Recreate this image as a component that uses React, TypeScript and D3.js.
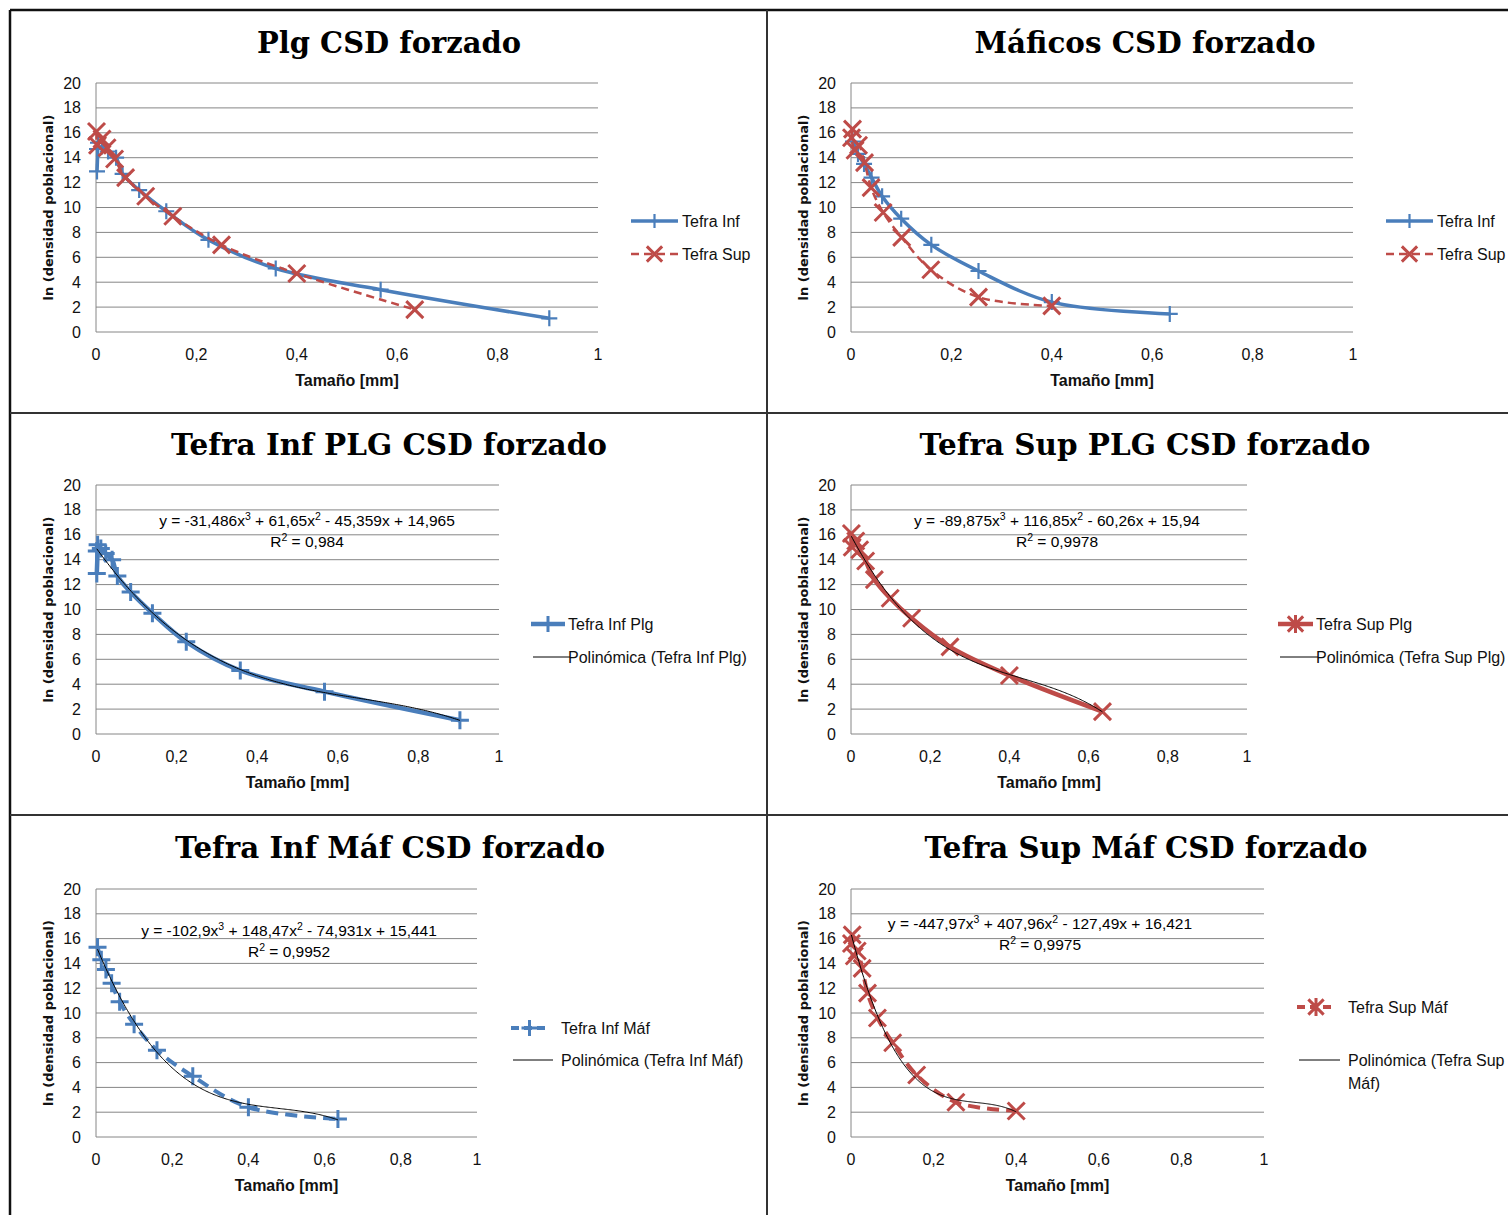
import React from 'react';
import * as d3 from 'd3';

// ---- CSD data: size class midpoint [mm] vs ln(population density) ----
const infPlgSize = [0.002, 0.004, 0.002, 0.012, 0.024, 0.04, 0.053, 0.086, 0.14, 0.224, 0.358, 0.567, 0.903];
const infPlgLnN = [12.9, 15.2, 14.7, 14.9, 14.5, 14.0, 12.7, 11.4, 9.7, 7.4, 5.1, 3.4, 1.1];

const supPlgSize = [0.001, 0.003, 0.012, 0.022, 0.037, 0.059, 0.099, 0.153, 0.25, 0.4, 0.635];
const supPlgLnN = [16.1, 15.0, 15.5, 14.8, 13.9, 12.4, 10.9, 9.3, 7.0, 4.7, 1.8];

const infMafSize = [0.004, 0.014, 0.026, 0.041, 0.062, 0.1, 0.16, 0.254, 0.4, 0.635];
const infMafLnN = [15.3, 14.3, 13.5, 12.4, 10.9, 9.1, 7.0, 4.9, 2.4, 1.45];

const supMafSize = [0.003, 0.001, 0.008, 0.015, 0.027, 0.04, 0.064, 0.101, 0.159, 0.254, 0.4];
const supMafLnN = [16.3, 15.6, 14.6, 15.0, 13.6, 11.6, 9.6, 7.6, 5.0, 2.8, 2.1];

// ---- cubic trend fits: [x^3, x^2, x, 1] and their R^2 ----
const infPlgFit = [-31.486, 61.65, -45.359, 14.965];
const supPlgFit = [-89.875, 116.85, -60.26, 15.94];
const infMafFit = [-102.9, 148.47, -74.931, 15.441];
const supMafFit = [-447.97, 407.96, -127.49, 16.421];
const fitR2 = [0.984, 0.9978, 0.9952, 0.9975];

// ---- axes ----
const xTicks = [0, 0.2, 0.4, 0.6, 0.8, 1];
const yTicks = [0, 2, 4, 6, 8, 10, 12, 14, 16, 18, 20];
const xTitle = 'Tamaño [mm]';
const yTitle = 'ln (densidad poblacional)';

const BLUE = '#4A7EBB';
const RED = '#BE4B48';
const GRID = '#868686';
const SANS = '"Liberation Sans", Arial, sans-serif';
const SERIF = '"DejaVu Serif", serif';

type Marker = 'plus' | 'cross' | 'star';
type SeriesSpec = {
  name: string;
  x: number[];
  y: number[];
  color: string;
  width: number;
  dash?: string;
  marker: Marker;
  legendMarker: Marker;
  mSize: number;
  mWidth: number;
};
type TrendSpec = { name: string[]; coef: number[]; r2: number; eqX: number; eqY: number };
type PanelSpec = {
  title: string;
  titleX: number;
  titleY: number;
  titleW: number;
  left: number;
  right: number;
  top: number;
  bottom: number;
  series: SeriesSpec[];
  trend?: TrendSpec;
  legend: { x0: number; x1: number; tx: number; ys: number[] };
};

const decimal = (v: number) => String(Math.abs(v)).replace('.', ',');

const polyAt = (c: number[], x: number) => c[0] * x * x * x + c[1] * x * x + c[2] * x + c[3];

function markerPath(kind: Marker, x: number, y: number, s: number) {
  const p = d3.path();
  if (kind === 'plus' || kind === 'star') {
    p.moveTo(x, y - s);
    p.lineTo(x, y + s);
  }
  if (kind === 'plus') {
    p.moveTo(x - s, y);
    p.lineTo(x + s, y);
  }
  if (kind === 'cross' || kind === 'star') {
    const k = s * 0.85;
    p.moveTo(x - k, y - k);
    p.lineTo(x + k, y + k);
    p.moveTo(x + k, y - k);
    p.lineTo(x - k, y + k);
  }
  return p.toString();
}

function Equation({ coef, x, y }: { coef: number[]; x: number; y: number }) {
  const sgn = (v: number) => (v < 0 ? '-' : '+');
  return (
    <text x={x} y={y} textAnchor="middle" fontFamily={SANS} fontSize={15.5} fill="#000">
      <tspan>{`y = ${coef[0] < 0 ? '-' : ''}${decimal(coef[0])}x`}</tspan>
      <tspan dy={-6} fontSize={10.5}>3</tspan>
      <tspan dy={6}>{` ${sgn(coef[1])} ${decimal(coef[1])}x`}</tspan>
      <tspan dy={-6} fontSize={10.5}>2</tspan>
      <tspan dy={6}>{` ${sgn(coef[2])} ${decimal(coef[2])}x ${sgn(coef[3])} ${decimal(coef[3])}`}</tspan>
    </text>
  );
}

function Panel({ p }: { p: PanelSpec }) {
  const xs = d3.scaleLinear().domain([0, 1]).range([p.left, p.right]);
  const ys = d3.scaleLinear().domain([0, 20]).range([p.bottom, p.top]);
  const line = d3
    .line<[number, number]>()
    .x((d) => xs(d[0]))
    .y((d) => ys(d[1]))
    .curve(d3.curveCatmullRom.alpha(0.5));

  let trendPath: string | null = null;
  if (p.trend) {
    const s = p.series[0];
    const lo = d3.min(s.x) as number;
    const hi = d3.max(s.x) as number;
    const pts = d3.range(0, 201).map((i) => {
      const xv = lo + ((hi - lo) * i) / 200;
      return [xv, polyAt(p.trend!.coef, xv)] as [number, number];
    });
    trendPath = d3
      .line<[number, number]>()
      .x((d) => xs(d[0]))
      .y((d) => ys(d[1]))(pts);
  }

  const midY = (p.top + p.bottom) / 2;
  const midX = (p.left + p.right) / 2;

  return (
    <g>
      <text
        x={p.titleX}
        y={p.titleY}
        textAnchor="middle"
        fontFamily={SERIF}
        fontWeight="bold"
        fontSize={30}
        textLength={p.titleW}
        lengthAdjust="spacingAndGlyphs"
        fill="#000"
      >
        {p.title}
      </text>

      {/* gridlines */}
      {yTicks.map((t) => (
        <line key={'g' + t} x1={p.left} x2={p.right} y1={ys(t)} y2={ys(t)} stroke={GRID} strokeWidth={1} />
      ))}
      <line x1={p.left} x2={p.left} y1={p.top} y2={p.bottom} stroke={GRID} strokeWidth={1} />

      {/* tick labels */}
      {yTicks.map((t) => (
        <text key={'y' + t} x={p.left - 15} y={ys(t) + 5.5} textAnchor="end" fontFamily={SANS} fontSize={16} fill="#111">
          {String(t)}
        </text>
      ))}
      {xTicks.map((t) => (
        <text key={'x' + t} x={xs(t)} y={p.bottom + 28} textAnchor="middle" fontFamily={SANS} fontSize={16} fill="#111">
          {decimal(t)}
        </text>
      ))}

      {/* axis titles */}
      <text x={midX} y={p.bottom + 54} textAnchor="middle" fontFamily={SANS} fontWeight="bold" fontSize={16} fill="#111">
        {xTitle}
      </text>
      <text
        transform={`translate(${p.left - 43},${midY}) rotate(-90)`}
        textAnchor="middle"
        fontFamily='"DejaVu Sans", sans-serif'
        fontWeight="bold"
        fontSize={13}
        fill="#111"
      >
        {yTitle}
      </text>

      {/* series */}
      {p.series.map((s) => {
        const pts = s.x.map((v, i) => [v, s.y[i]] as [number, number]);
        return (
          <g key={s.name}>
            <path d={line(pts) || ''} fill="none" stroke={s.color} strokeWidth={s.width} strokeDasharray={s.dash} strokeLinejoin="round" />
            {pts.map((d, i) => (
              <path key={i} d={markerPath(s.marker, xs(d[0]), ys(d[1]), s.mSize)} stroke={s.color} strokeWidth={s.mWidth} fill="none" />
            ))}
          </g>
        );
      })}

      {/* polynomial trend */}
      {p.trend && trendPath && (
        <g>
          <path d={trendPath} fill="none" stroke="#000" strokeWidth={1} />
          <Equation coef={p.trend.coef} x={p.trend.eqX} y={p.trend.eqY} />
          <text x={p.trend.eqX} y={p.trend.eqY + 21} textAnchor="middle" fontFamily={SANS} fontSize={15.5} fill="#000">
            <tspan>R</tspan>
            <tspan dy={-6} fontSize={10.5}>2</tspan>
            <tspan dy={6}>{` = ${decimal(p.trend.r2)}`}</tspan>
          </text>
        </g>
      )}

      {/* legend */}
      {p.series.map((s, i) => {
        const ly = p.legend.ys[i];
        const cx = (p.legend.x0 + p.legend.x1) / 2;
        return (
          <g key={'l' + s.name}>
            <line x1={p.legend.x0} x2={p.legend.x1} y1={ly} y2={ly} stroke={s.color} strokeWidth={s.width} strokeDasharray={s.dash ? '8 5' : undefined} />
            <path d={markerPath(s.legendMarker, cx, ly, s.mSize - 1)} stroke={s.color} strokeWidth={s.mWidth} fill="none" />
            <text x={p.legend.tx} y={ly + 5.5} fontFamily={SANS} fontSize={16} fill="#111">
              {s.name}
            </text>
          </g>
        );
      })}
      {p.trend && (
        <g>
          <line x1={p.legend.x0 + 2} x2={p.legend.x1 + 5} y1={p.legend.ys[1]} y2={p.legend.ys[1]} stroke="#000" strokeWidth={1} />
          {p.trend.name.map((t, i) => (
            <text key={t} x={p.legend.tx} y={p.legend.ys[1] + 5.5 + i * 23} fontFamily={SANS} fontSize={16} fill="#111">
              {t}
            </text>
          ))}
        </g>
      )}
    </g>
  );
}

const blueSolid = { color: BLUE, marker: 'plus' as Marker, legendMarker: 'plus' as Marker };
const redX = { color: RED, marker: 'cross' as Marker };

const panels: PanelSpec[] = [
  {
    title: 'Plg CSD forzado',
    titleX: 389, titleY: 53, titleW: 264,
    left: 96, right: 598, top: 83, bottom: 332,
    series: [
      { name: 'Tefra Inf', x: infPlgSize, y: infPlgLnN, ...blueSolid, width: 3.5, mSize: 8, mWidth: 2.2 },
      { name: 'Tefra Sup', x: supPlgSize, y: supPlgLnN, ...redX, legendMarker: 'cross', width: 2.5, dash: '8 5', mSize: 10, mWidth: 3 },
    ],
    legend: { x0: 631, x1: 678, tx: 682, ys: [221, 254] },
  },
  {
    title: 'Máficos CSD forzado',
    titleX: 1145, titleY: 53, titleW: 341,
    left: 851, right: 1353, top: 83, bottom: 332,
    series: [
      { name: 'Tefra Inf', x: infMafSize, y: infMafLnN, ...blueSolid, width: 3.5, mSize: 8, mWidth: 2.2 },
      { name: 'Tefra Sup', x: supMafSize, y: supMafLnN, ...redX, legendMarker: 'cross', width: 2.5, dash: '8 5', mSize: 10, mWidth: 3 },
    ],
    legend: { x0: 1386, x1: 1433, tx: 1437, ys: [221, 254] },
  },
  {
    title: 'Tefra Inf PLG CSD forzado',
    titleX: 389, titleY: 455, titleW: 436,
    left: 96, right: 499, top: 485, bottom: 734,
    series: [{ name: 'Tefra Inf Plg', x: infPlgSize, y: infPlgLnN, ...blueSolid, width: 4.5, mSize: 9, mWidth: 3 }],
    trend: { name: ['Polinómica (Tefra Inf Plg)'], coef: infPlgFit, r2: fitR2[0], eqX: 307, eqY: 526 },
    legend: { x0: 531, x1: 565, tx: 568, ys: [624, 657] },
  },
  {
    title: 'Tefra Sup PLG CSD forzado',
    titleX: 1145, titleY: 455, titleW: 451,
    left: 851, right: 1247, top: 485, bottom: 734,
    series: [{ name: 'Tefra Sup Plg', x: supPlgSize, y: supPlgLnN, ...redX, legendMarker: 'star', width: 4.5, mSize: 10, mWidth: 3 }],
    trend: { name: ['Polinómica (Tefra Sup Plg)'], coef: supPlgFit, r2: fitR2[1], eqX: 1057, eqY: 526 },
    legend: { x0: 1278, x1: 1313, tx: 1316, ys: [624, 657] },
  },
  {
    title: 'Tefra Inf Máf CSD forzado',
    titleX: 390, titleY: 858, titleW: 430,
    left: 96, right: 477, top: 889, bottom: 1137,
    series: [{ name: 'Tefra Inf Máf', x: infMafSize, y: infMafLnN, ...blueSolid, width: 4, dash: '12 7', mSize: 9, mWidth: 3 }],
    trend: { name: ['Polinómica (Tefra Inf Máf)'], coef: infMafFit, r2: fitR2[2], eqX: 289, eqY: 936 },
    legend: { x0: 511, x1: 548, tx: 561, ys: [1028, 1060] },
  },
  {
    title: 'Tefra Sup Máf CSD forzado',
    titleX: 1146, titleY: 858, titleW: 443,
    left: 851, right: 1264, top: 889, bottom: 1137,
    series: [{ name: 'Tefra Sup Máf', x: supMafSize, y: supMafLnN, ...redX, legendMarker: 'star', width: 4, dash: '12 7', mSize: 10, mWidth: 3 }],
    trend: { name: ['Polinómica (Tefra Sup', 'Máf)'], coef: supMafFit, r2: fitR2[3], eqX: 1040, eqY: 929 },
    legend: { x0: 1297, x1: 1335, tx: 1348, ys: [1007, 1060] },
  },
];

export default function App() {
  const W = 1508;
  const H = 1215;
  return (
    <svg width={W} height={H} viewBox={`0 0 ${W} ${H}`} style={{ position: 'absolute', left: 0, top: 0, background: '#fff' }}>
      <rect x={0} y={0} width={W} height={H} fill="#fff" />
      {/* frame and cell dividers */}
      <line x1={10} x2={W} y1={10} y2={10} stroke="#111" strokeWidth={2.5} />
      <line x1={10} x2={10} y1={10} y2={H} stroke="#111" strokeWidth={2.5} />
      <line x1={767} x2={767} y1={10} y2={H} stroke="#333" strokeWidth={2} />
      <line x1={10} x2={W} y1={413} y2={413} stroke="#333" strokeWidth={2} />
      <line x1={10} x2={W} y1={815} y2={815} stroke="#333" strokeWidth={2} />
      {panels.map((p) => (
        <Panel key={p.title} p={p} />
      ))}
    </svg>
  );
}
